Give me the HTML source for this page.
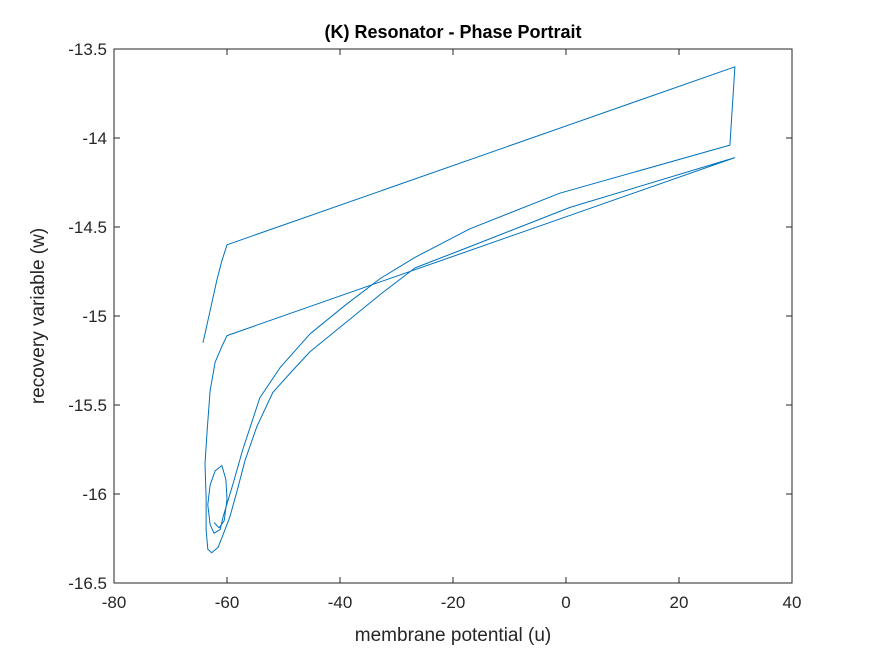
<!DOCTYPE html>
<html><head><meta charset="utf-8"><style>
body{margin:0;background:#fff;}
svg{display:block;font-family:"Liberation Sans",Arial,sans-serif;}
</style></head><body>
<svg id="chart" width="875" height="656">
<rect x="0" y="0" width="875" height="656" fill="#fff"/>
<g id="plot"></g>
</svg>
<script>
const xTicks=[-80,-60,-40,-20,0,20,40];
const yTicks=[-16.5,-16,-15.5,-15,-14.5,-14,-13.5];
const yTickLabels=["-16.5","-16","-15.5","-15","-14.5","-14","-13.5"];
const u1=[-64.25,-63.0,-61.8,-60.9,-60.0,29.9,29.0,-1.1,-17.0,-26.7,-32.9,-39.1,-45.3,-50.6,-54.2,-57.2,-58.9,-60.7,-61.2,-62.3,-63.0,-63.4,-63.0,-62.1,-60.9,-60.2,-60.0,-60.5,-61.4,-62.3];
const w1=[-15.15,-14.97,-14.80,-14.69,-14.60,-13.60,-14.04,-14.31,-14.51,-14.67,-14.79,-14.94,-15.10,-15.29,-15.46,-15.75,-15.94,-16.13,-16.20,-16.22,-16.17,-16.06,-15.95,-15.87,-15.84,-15.92,-16.03,-16.15,-16.19,-16.16];
const u2=[29.9,0.7,-17.0,-26.7,-32.9,-45.3,-48.8,-51.9,-54.7,-56.8,-58.2,-59.5,-60.7,-61.6,-62.7,-63.4,-63.7,-63.7,-63.9,-63.5,-63.0,-62.1,-60.9,-60.0,29.9];
const w2=[-14.11,-14.39,-14.61,-14.73,-14.88,-15.20,-15.32,-15.43,-15.62,-15.81,-15.98,-16.13,-16.23,-16.30,-16.33,-16.31,-16.20,-16.02,-15.83,-15.64,-15.42,-15.26,-15.17,-15.11,-14.11];

const L=114,R=792,T=49,B=583;
const xMin=-80,xMax=40,yMin=-16.5,yMax=-13.5;
const sx=v=>L+(v-xMin)/(xMax-xMin)*(R-L);
const sy=v=>B-(v-yMin)/(yMax-yMin)*(B-T);
const NS="http://www.w3.org/2000/svg";
const g=document.getElementById('plot');
function mk(tag,attrs){const e=document.createElementNS(NS,tag);for(const k in attrs)e.setAttribute(k,attrs[k]);g.appendChild(e);return e;}

const box=mk('rect',{x:L,y:T,width:R-L,height:B-T,fill:'none',stroke:'#262626','stroke-width':1});



xTicks.forEach(v=>{
  const x=sx(v);
  const t1=mk('line',{x1:x,y1:B,x2:x,y2:B-6,stroke:'#262626'});
  
  
  const t2=mk('line',{x1:x,y1:T,x2:x,y2:T+6,stroke:'#262626'});
  
  
  const tx=mk('text',{x:x,y:B+25,'text-anchor':'middle','font-size':17,fill:'#262626'});
  tx.textContent=String(v);
  
  
});
yTicks.forEach((v,i)=>{
  const y=sy(v);
  const t1=mk('line',{x1:L,y1:y,x2:L+6,y2:y,stroke:'#262626'});
  
  
  const t2=mk('line',{x1:R,y1:y,x2:R-6,y2:y,stroke:'#262626'});
  
  
  const ty=mk('text',{x:L-7,y:y+6,'text-anchor':'end','font-size':17,fill:'#262626'});
  ty.textContent=yTickLabels[i];
  
  
});

function series(u,w,name){
  const pts=u.map((v,i)=>sx(v).toFixed(1)+','+sy(w[i]).toFixed(1)).join(' ');
  const p=mk('polyline',{points:pts,fill:'none',stroke:'#0072BD','stroke-width':1,'stroke-linejoin':'round'});
  
  
}
series(u1,w1,'trajectory-segment-1');
series(u2,w2,'trajectory-segment-2');

const title=mk('text',{x:453,y:38,'text-anchor':'middle','font-size':18,'font-weight':'bold',fill:'#000'});
title.textContent='(K) Resonator - Phase Portrait';


const xl=mk('text',{x:453,y:641,'text-anchor':'middle','font-size':19,fill:'#262626'});
xl.textContent='membrane potential (u)';


const yl=mk('text',{x:0,y:0,'text-anchor':'middle','font-size':19,fill:'#262626',transform:'translate(44,316) rotate(-90)'});
yl.textContent='recovery variable (w)';


</script>
</body></html>
